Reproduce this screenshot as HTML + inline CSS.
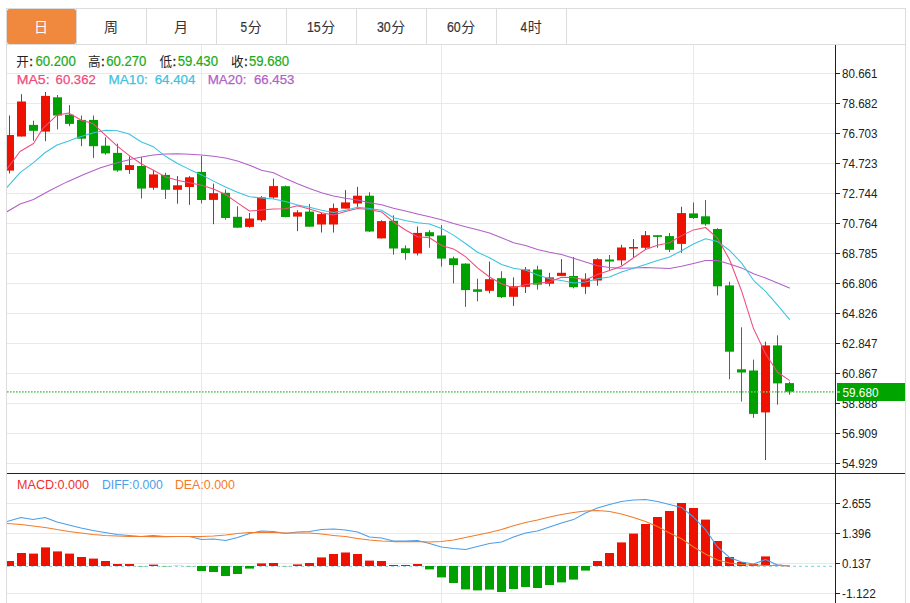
<!DOCTYPE html>
<html><head><meta charset="utf-8"><title>K</title>
<style>
html,body{margin:0;padding:0;background:#fff;}
body{width:910px;height:603px;overflow:hidden;position:relative;font-family:"Liberation Sans",sans-serif;}
svg{position:absolute;left:0;top:0;display:block;}
text{font-family:"Liberation Sans",sans-serif;}
text.cjk{font-family:"Liberation Sans","Noto Sans CJK SC",sans-serif;}
</style></head><body>
<svg width="910" height="603" viewBox="0 0 910 603">
<rect x="0" y="0" width="910" height="603" fill="#ffffff"/>
<g stroke="#e0ebf3" stroke-width="1" shape-rendering="crispEdges">
<line x1="7" x2="835" y1="73.5" y2="73.5"/>
<line x1="7" x2="835" y1="103.5" y2="103.5"/>
<line x1="7" x2="835" y1="133.5" y2="133.5"/>
<line x1="7" x2="835" y1="163.5" y2="163.5"/>
<line x1="7" x2="835" y1="193.5" y2="193.5"/>
<line x1="7" x2="835" y1="223.5" y2="223.5"/>
<line x1="7" x2="835" y1="253.5" y2="253.5"/>
<line x1="7" x2="835" y1="283.5" y2="283.5"/>
<line x1="7" x2="835" y1="313.5" y2="313.5"/>
<line x1="7" x2="835" y1="343.5" y2="343.5"/>
<line x1="7" x2="835" y1="373.5" y2="373.5"/>
<line x1="7" x2="835" y1="403.5" y2="403.5"/>
<line x1="7" x2="835" y1="433.5" y2="433.5"/>
<line x1="7" x2="835" y1="463.5" y2="463.5"/>
<line x1="7" x2="835" y1="503.5" y2="503.5"/>
<line x1="7" x2="835" y1="533.5" y2="533.5"/>
<line x1="7" x2="835" y1="563.5" y2="563.5"/>
<line x1="7" x2="835" y1="593.5" y2="593.5"/>
<line x1="201.5" x2="201.5" y1="45" y2="603"/>
<line x1="441.5" x2="441.5" y1="45" y2="603"/>
<line x1="693.5" x2="693.5" y1="45" y2="603"/>
</g>
<g stroke="#dcdcdc" stroke-width="1" fill="none" shape-rendering="crispEdges">
<line x1="6" x2="906" y1="8.5" y2="8.5"/>
<line x1="6.5" x2="6.5" y1="8" y2="603"/>
<line x1="905.5" x2="905.5" y1="8" y2="603"/>
<line x1="6" x2="906" y1="44.5" y2="44.5"/>
<line x1="76.5" x2="76.5" y1="9" y2="44"/>
<line x1="146.5" x2="146.5" y1="9" y2="44"/>
<line x1="216.5" x2="216.5" y1="9" y2="44"/>
<line x1="286.5" x2="286.5" y1="9" y2="44"/>
<line x1="356.5" x2="356.5" y1="9" y2="44"/>
<line x1="426.5" x2="426.5" y1="9" y2="44"/>
<line x1="496.5" x2="496.5" y1="9" y2="44"/>
<line x1="566.5" x2="566.5" y1="9" y2="44"/>
</g>
<rect x="7" y="9" width="69.1" height="35" rx="2.5" ry="2.5" fill="#f0883e"/>
<text class="cjk" x="34.10" y="32.30" font-size="14" fill="#ffffff">日</text>
<text class="cjk" x="104.10" y="32.30" font-size="14" fill="#333333">周</text>
<text class="cjk" x="174.10" y="32.30" font-size="14" fill="#333333">月</text>
<text x="240.50" y="32.30" font-size="14.4" fill="#333333" stroke="#333333" stroke-width="0.2" textLength="6.6" lengthAdjust="spacingAndGlyphs">5</text><text class="cjk" x="247.70" y="32.30" font-size="14" fill="#333333">分</text>
<text x="306.90" y="32.30" font-size="14.4" fill="#333333" stroke="#333333" stroke-width="0.2" textLength="13.8" lengthAdjust="spacingAndGlyphs">15</text><text class="cjk" x="321.30" y="32.30" font-size="14" fill="#333333">分</text>
<text x="376.90" y="32.30" font-size="14.4" fill="#333333" stroke="#333333" stroke-width="0.2" textLength="13.8" lengthAdjust="spacingAndGlyphs">30</text><text class="cjk" x="391.30" y="32.30" font-size="14" fill="#333333">分</text>
<text x="446.90" y="32.30" font-size="14.4" fill="#333333" stroke="#333333" stroke-width="0.2" textLength="13.8" lengthAdjust="spacingAndGlyphs">60</text><text class="cjk" x="461.30" y="32.30" font-size="14" fill="#333333">分</text>
<text x="520.50" y="32.30" font-size="14.4" fill="#333333" stroke="#333333" stroke-width="0.2" textLength="6.6" lengthAdjust="spacingAndGlyphs">4</text><text class="cjk" x="527.70" y="32.30" font-size="14" fill="#333333">时</text>
<defs><clipPath id="c"><rect x="7" y="45" width="828" height="558"/></clipPath></defs>
<g clip-path="url(#c)">
<rect x="9.0" y="115.5" width="1" height="58" fill="#ee1100"/>
<rect x="5.0" y="135" width="9" height="35.6" fill="#ee1100"/>
<rect x="21.0" y="94.2" width="1" height="42.3" fill="#ee1100"/>
<rect x="17.0" y="101.5" width="9" height="35" fill="#ee1100"/>
<rect x="33.0" y="120.7" width="1" height="20" fill="#00a000"/>
<rect x="29.0" y="124.9" width="9" height="5.9" fill="#00a000"/>
<rect x="45.0" y="92" width="1" height="49.2" fill="#ee1100"/>
<rect x="41.0" y="95.9" width="9" height="35.7" fill="#ee1100"/>
<rect x="57.0" y="95" width="1" height="34.4" fill="#00a000"/>
<rect x="53.0" y="97.3" width="9" height="18.2" fill="#00a000"/>
<rect x="69.0" y="105.1" width="1" height="21" fill="#00a000"/>
<rect x="65.0" y="114.7" width="9" height="9.2" fill="#00a000"/>
<rect x="81.0" y="115.5" width="1" height="30.7" fill="#00a000"/>
<rect x="77.0" y="119.9" width="9" height="18.8" fill="#00a000"/>
<rect x="93.0" y="115.5" width="1" height="42.4" fill="#00a000"/>
<rect x="89.0" y="119.9" width="9" height="26.3" fill="#00a000"/>
<rect x="105.0" y="137.3" width="1" height="17.3" fill="#00a000"/>
<rect x="101.0" y="145.7" width="9" height="7.7" fill="#00a000"/>
<rect x="117.0" y="143.7" width="1" height="28.1" fill="#00a000"/>
<rect x="113.0" y="152.9" width="9" height="17.6" fill="#00a000"/>
<rect x="129.0" y="156.3" width="1" height="17.5" fill="#ee1100"/>
<rect x="125.0" y="165.1" width="9" height="4.9" fill="#ee1100"/>
<rect x="141.0" y="157" width="1" height="41.5" fill="#00a000"/>
<rect x="137.0" y="166" width="9" height="22.6" fill="#00a000"/>
<rect x="153.0" y="170.2" width="1" height="19.6" fill="#ee1100"/>
<rect x="149.0" y="174.4" width="9" height="13.4" fill="#ee1100"/>
<rect x="165.0" y="172.7" width="1" height="26.3" fill="#00a000"/>
<rect x="161.0" y="174.9" width="9" height="14.9" fill="#00a000"/>
<rect x="177.0" y="176.1" width="1" height="27.6" fill="#ee1100"/>
<rect x="173.0" y="185.3" width="9" height="4.5" fill="#ee1100"/>
<rect x="189.0" y="176.1" width="1" height="28.8" fill="#ee1100"/>
<rect x="185.0" y="177.3" width="9" height="9.7" fill="#ee1100"/>
<rect x="201.0" y="156" width="1" height="47.4" fill="#00a000"/>
<rect x="197.0" y="171.9" width="9" height="28.1" fill="#00a000"/>
<rect x="213.0" y="183.6" width="1" height="40.6" fill="#ee1100"/>
<rect x="209.0" y="193.2" width="9" height="6.7" fill="#ee1100"/>
<rect x="225.0" y="189.5" width="1" height="30.2" fill="#00a000"/>
<rect x="221.0" y="192.8" width="9" height="25.2" fill="#00a000"/>
<rect x="237.0" y="206.3" width="1" height="21.4" fill="#00a000"/>
<rect x="233.0" y="216.8" width="9" height="10.9" fill="#00a000"/>
<rect x="249.0" y="213" width="1" height="14.7" fill="#ee1100"/>
<rect x="245.0" y="218.5" width="9" height="8.4" fill="#ee1100"/>
<rect x="261.0" y="196.2" width="1" height="25.6" fill="#ee1100"/>
<rect x="257.0" y="197.4" width="9" height="22.8" fill="#ee1100"/>
<rect x="273.0" y="178.6" width="1" height="20.1" fill="#ee1100"/>
<rect x="269.0" y="186.1" width="9" height="11.4" fill="#ee1100"/>
<rect x="285.0" y="185.6" width="1" height="31.7" fill="#00a000"/>
<rect x="281.0" y="186.2" width="9" height="30.8" fill="#00a000"/>
<rect x="297.0" y="210.2" width="1" height="21" fill="#ee1100"/>
<rect x="293.0" y="212.3" width="9" height="4.3" fill="#ee1100"/>
<rect x="309.0" y="204" width="1" height="22.7" fill="#00a000"/>
<rect x="305.0" y="211.6" width="9" height="15.1" fill="#00a000"/>
<rect x="321.0" y="212.8" width="1" height="19.7" fill="#ee1100"/>
<rect x="317.0" y="214.1" width="9" height="10.4" fill="#ee1100"/>
<rect x="333.0" y="203.5" width="1" height="29" fill="#ee1100"/>
<rect x="329.0" y="208.1" width="9" height="16.4" fill="#ee1100"/>
<rect x="345.0" y="190.1" width="1" height="18.5" fill="#ee1100"/>
<rect x="341.0" y="202.4" width="9" height="6.2" fill="#ee1100"/>
<rect x="357.0" y="186.8" width="1" height="20.1" fill="#ee1100"/>
<rect x="353.0" y="195.7" width="9" height="7.8" fill="#ee1100"/>
<rect x="369.0" y="192.3" width="1" height="39.7" fill="#00a000"/>
<rect x="365.0" y="195.7" width="9" height="35.8" fill="#00a000"/>
<rect x="381.0" y="220.3" width="1" height="18.1" fill="#ee1100"/>
<rect x="377.0" y="221.1" width="9" height="17.3" fill="#ee1100"/>
<rect x="393.0" y="215.3" width="1" height="39.4" fill="#00a000"/>
<rect x="389.0" y="220.8" width="9" height="27.7" fill="#00a000"/>
<rect x="405.0" y="245.4" width="1" height="14.3" fill="#00a000"/>
<rect x="401.0" y="248.3" width="9" height="4.7" fill="#00a000"/>
<rect x="417.0" y="226.5" width="1" height="29" fill="#ee1100"/>
<rect x="413.0" y="232.9" width="9" height="20.5" fill="#ee1100"/>
<rect x="429.0" y="230.2" width="1" height="17.5" fill="#00a000"/>
<rect x="425.0" y="232.2" width="9" height="4.1" fill="#00a000"/>
<rect x="441.0" y="225.1" width="1" height="41.5" fill="#00a000"/>
<rect x="437.0" y="235.5" width="9" height="23.1" fill="#00a000"/>
<rect x="453.0" y="256.6" width="1" height="26.8" fill="#00a000"/>
<rect x="449.0" y="258.3" width="9" height="6.7" fill="#00a000"/>
<rect x="465.0" y="263.3" width="1" height="43.6" fill="#00a000"/>
<rect x="461.0" y="263.6" width="9" height="26.5" fill="#00a000"/>
<rect x="477.0" y="278.7" width="1" height="22.6" fill="#00a000"/>
<rect x="473.0" y="289.3" width="9" height="2.5" fill="#00a000"/>
<rect x="489.0" y="261.6" width="1" height="31.7" fill="#ee1100"/>
<rect x="485.0" y="279.2" width="9" height="11.6" fill="#ee1100"/>
<rect x="501.0" y="271.2" width="1" height="26.8" fill="#00a000"/>
<rect x="497.0" y="278.2" width="9" height="18.9" fill="#00a000"/>
<rect x="513.0" y="277.4" width="1" height="28.5" fill="#ee1100"/>
<rect x="509.0" y="286.3" width="9" height="10.5" fill="#ee1100"/>
<rect x="525.0" y="267" width="1" height="26" fill="#ee1100"/>
<rect x="521.0" y="269.5" width="9" height="17.3" fill="#ee1100"/>
<rect x="537.0" y="265.8" width="1" height="23.8" fill="#00a000"/>
<rect x="533.0" y="269.5" width="9" height="15.1" fill="#00a000"/>
<rect x="549.0" y="272.8" width="1" height="13.5" fill="#ee1100"/>
<rect x="545.0" y="277.4" width="9" height="6.3" fill="#ee1100"/>
<rect x="561.0" y="259.1" width="1" height="16.8" fill="#ee1100"/>
<rect x="557.0" y="272.8" width="9" height="3.1" fill="#ee1100"/>
<rect x="573.0" y="257" width="1" height="31.3" fill="#00a000"/>
<rect x="569.0" y="276" width="9" height="11.2" fill="#00a000"/>
<rect x="585.0" y="273.3" width="1" height="20.6" fill="#ee1100"/>
<rect x="581.0" y="278.8" width="9" height="8" fill="#ee1100"/>
<rect x="597.0" y="258.3" width="1" height="27.5" fill="#ee1100"/>
<rect x="593.0" y="259.2" width="9" height="21.3" fill="#ee1100"/>
<rect x="609.0" y="255" width="1" height="14.9" fill="#00a000"/>
<rect x="605.0" y="259.5" width="9" height="2" fill="#00a000"/>
<rect x="621.0" y="244.8" width="1" height="20.6" fill="#ee1100"/>
<rect x="617.0" y="247.5" width="9" height="12.9" fill="#ee1100"/>
<rect x="633.0" y="239.1" width="1" height="17.9" fill="#ee1100"/>
<rect x="629.0" y="247" width="9" height="1.6" fill="#ee1100"/>
<rect x="645.0" y="231" width="1" height="19" fill="#ee1100"/>
<rect x="641.0" y="235.2" width="9" height="12.6" fill="#ee1100"/>
<rect x="657.0" y="235" width="1" height="12.8" fill="#00a000"/>
<rect x="653.0" y="235.2" width="9" height="1.7" fill="#00a000"/>
<rect x="669.0" y="233" width="1" height="19" fill="#00a000"/>
<rect x="665.0" y="236.1" width="9" height="13.7" fill="#00a000"/>
<rect x="681.0" y="206.7" width="1" height="46.1" fill="#ee1100"/>
<rect x="677.0" y="213.1" width="9" height="30.8" fill="#ee1100"/>
<rect x="693.0" y="202.5" width="1" height="16.5" fill="#00a000"/>
<rect x="689.0" y="213.4" width="9" height="4.6" fill="#00a000"/>
<rect x="705.0" y="200" width="1" height="25.7" fill="#00a000"/>
<rect x="701.0" y="216.3" width="9" height="8" fill="#00a000"/>
<rect x="717.0" y="228.2" width="1" height="67.2" fill="#00a000"/>
<rect x="713.0" y="229" width="9" height="57.3" fill="#00a000"/>
<rect x="729.0" y="281.7" width="1" height="97.5" fill="#00a000"/>
<rect x="725.0" y="285.4" width="9" height="66.3" fill="#00a000"/>
<rect x="741.0" y="327.3" width="1" height="74.2" fill="#00a000"/>
<rect x="737.0" y="369.3" width="9" height="3.2" fill="#00a000"/>
<rect x="753.0" y="359.6" width="1" height="58.2" fill="#00a000"/>
<rect x="749.0" y="370.5" width="9" height="43.4" fill="#00a000"/>
<rect x="765.0" y="341.7" width="1" height="118.3" fill="#ee1100"/>
<rect x="761.0" y="345.4" width="9" height="67" fill="#ee1100"/>
<rect x="777.0" y="335.3" width="1" height="69.4" fill="#00a000"/>
<rect x="773.0" y="345.4" width="9" height="38" fill="#00a000"/>
<rect x="789.0" y="381.8" width="1" height="13" fill="#00a000"/>
<rect x="785.0" y="383.1" width="9" height="8.7" fill="#00a000"/>
<line x1="7" x2="835" y1="391.8" y2="391.8" stroke="#5cc85c" opacity="0.9" stroke-width="1.8" stroke-dasharray="1.6 1.4"/>
<polyline fill="none" stroke="#b25fc9" stroke-width="1.05" stroke-linejoin="round" stroke-linecap="round" points="7,211.7 20.1,204 33.5,199.5 50.3,190.3 67,181.9 83.8,174.5 100.5,167.8 117.3,162.8 134,158.5 141.5,157 153.5,155.1 165.5,154 177.5,153.8 189.5,154.3 201.5,155.1 213.5,156.3 225.5,158 237.5,161 249.5,165.2 261.5,170.2 273.5,172.7 285.5,178.6 297.5,183.8 309.5,188.5 321.5,192.7 333.5,196 345.5,198.2 357.5,199.9 369.5,202.7 381.5,204.7 393.5,208.2 405.5,211.1 417.5,213.9 429.5,216.8 441.5,219.7 453.5,223.4 465.5,226.8 477.5,229.8 489.5,233.1 501.5,237.7 513.5,242.7 525.5,245.5 537.5,249.4 549.5,252.2 561.5,254.6 573.5,258.3 585.5,262 597.5,265.7 609.5,267.4 621.5,268.2 633.5,267.9 645.5,267.4 657.5,267.9 669.5,268.4 681.5,266.2 693.5,263.4 705.5,260.5 717.5,260.4 729.5,264 741.5,267.9 753.5,273.8 765.5,278 777.5,283 789.5,288"/>
<polyline fill="none" stroke="#3cc3e0" stroke-width="1.05" stroke-linejoin="round" stroke-linecap="round" points="7,187.4 20.1,172.7 33.5,162.6 45.2,152.5 57,145 68.7,141 77,137.8 93.8,132.8 105.6,130.3 117.3,130.8 129,134 141.5,142 153.5,146.8 165.5,156.3 177.5,163.5 189.5,169.4 201.5,174.9 213.5,181.1 225.5,187 237.5,192.3 249.5,196.7 261.5,197.9 273.5,199 285.5,201.5 297.5,204.9 309.5,207.2 321.5,210.2 333.5,212.4 345.5,210.2 357.5,207.2 369.5,208.6 381.5,210.2 393.5,217.8 405.5,220.6 417.5,222.8 429.5,224 441.5,228.4 453.5,235.1 465.5,243.5 477.5,252.2 489.5,257.8 501.5,264.5 513.5,268.2 525.5,270 537.5,275 549.5,278.7 561.5,280.6 573.5,283 585.5,282.1 597.5,278.8 609.5,277.1 621.5,272.1 633.5,268.2 645.5,264.5 657.5,260.4 669.5,257 681.5,250.8 693.5,244 705.5,238.8 717.5,241.6 729.5,250.3 741.5,262.9 753.5,280.3 765.5,291.3 777.5,305.1 789.5,319.4"/>
<polyline fill="none" stroke="#ee4d7c" stroke-width="1.05" stroke-linejoin="round" stroke-linecap="round" points="7,169 20,151.5 33.5,143.5 42.7,128.6 57,115.2 68.7,113 81.3,120.2 93,123.6 105.6,135.3 117.3,146.2 129,155.4 141.5,164 153.5,170.2 165.5,176.9 177.5,180.3 189.5,182.8 201.5,185.3 213.5,189 225.5,194.5 237.5,202.9 249.5,211 261.5,210.1 273.5,209.1 285.5,208.8 297.5,205.7 309.5,208.9 321.5,212.8 333.5,215 345.5,211.6 357.5,208.6 369.5,209.4 381.5,211.9 393.5,222 405.5,230 417.5,236.7 429.5,237.8 441.5,245.5 453.5,248.9 465.5,256.6 477.5,267.8 489.5,277 501.5,283.7 513.5,287.9 525.5,284.6 537.5,283.2 549.5,282.1 561.5,277.2 573.5,277.6 585.5,280 597.5,274.6 609.5,270.4 621.5,266.2 633.5,257.8 645.5,249.5 657.5,245.3 669.5,242.8 681.5,235.6 693.5,229.9 705.5,227.5 717.5,238.2 729.5,259.5 741.5,290.7 753.5,328.6 765.5,353.7 777.5,372.3 789.5,380.4"/>
<line x1="7" x2="835" y1="566.3" y2="566.3" stroke="#9ad7f0" stroke-width="1.2" stroke-dasharray="3 3"/>
<rect x="5.0" y="561" width="9" height="5" fill="#ee1100" opacity="1"/>
<rect x="17.0" y="553" width="9" height="13" fill="#ee1100" opacity="1"/>
<rect x="29.0" y="553.6" width="9" height="12.4" fill="#ee1100" opacity="1"/>
<rect x="41.0" y="547.4" width="9" height="18.6" fill="#ee1100" opacity="1"/>
<rect x="53.0" y="551.4" width="9" height="14.6" fill="#ee1100" opacity="1"/>
<rect x="65.0" y="553.6" width="9" height="12.4" fill="#ee1100" opacity="1"/>
<rect x="77.0" y="557" width="9" height="9" fill="#ee1100" opacity="1"/>
<rect x="89.0" y="558.6" width="9" height="7.4" fill="#ee1100" opacity="1"/>
<rect x="101.0" y="561" width="9" height="5" fill="#ee1100" opacity="1"/>
<rect x="113.0" y="564" width="9" height="2" fill="#ee1100" opacity="1"/>
<rect x="125.0" y="564" width="9" height="2" fill="#ee1100" opacity="1"/>
<rect x="137.0" y="566" width="9" height="0.6" fill="#00a000" opacity="0.5"/>
<rect x="149.0" y="564.6" width="9" height="1.4" fill="#ee1100" opacity="1"/>
<rect x="161.0" y="566" width="9" height="0.6" fill="#00a000" opacity="0.5"/>
<rect x="173.0" y="565.6" width="9" height="0.4" fill="#ee1100" opacity="0.35"/>
<rect x="185.0" y="566" width="9" height="0.5" fill="#00a000" opacity="0.5"/>
<rect x="197.0" y="566" width="9" height="5" fill="#00a000" opacity="1"/>
<rect x="209.0" y="566" width="9" height="6" fill="#00a000" opacity="1"/>
<rect x="221.0" y="566" width="9" height="10" fill="#00a000" opacity="1"/>
<rect x="233.0" y="566" width="9" height="8" fill="#00a000" opacity="1"/>
<rect x="245.0" y="566" width="9" height="2.6" fill="#00a000" opacity="1"/>
<rect x="257.0" y="563.4" width="9" height="2.6" fill="#ee1100" opacity="1"/>
<rect x="269.0" y="563" width="9" height="3" fill="#ee1100" opacity="1"/>
<rect x="281.0" y="566" width="9" height="0.5" fill="#00a000" opacity="0.5"/>
<rect x="293.0" y="564.4" width="9" height="1.6" fill="#ee1100" opacity="1"/>
<rect x="305.0" y="563" width="9" height="3" fill="#ee1100" opacity="1"/>
<rect x="317.0" y="557.4" width="9" height="8.6" fill="#ee1100" opacity="1"/>
<rect x="329.0" y="554" width="9" height="12" fill="#ee1100" opacity="1"/>
<rect x="341.0" y="552.5" width="9" height="13.5" fill="#ee1100" opacity="1"/>
<rect x="353.0" y="554" width="9" height="12" fill="#ee1100" opacity="1"/>
<rect x="365.0" y="560.6" width="9" height="5.4" fill="#ee1100" opacity="1"/>
<rect x="377.0" y="561" width="9" height="5" fill="#ee1100" opacity="1"/>
<rect x="389.0" y="565" width="9" height="1" fill="#ee1100" opacity="1"/>
<rect x="401.0" y="565" width="9" height="1" fill="#ee1100" opacity="1"/>
<rect x="413.0" y="564" width="9" height="2" fill="#ee1100" opacity="1"/>
<rect x="425.0" y="566" width="9" height="3.4" fill="#00a000" opacity="1"/>
<rect x="437.0" y="566" width="9" height="11.4" fill="#00a000" opacity="1"/>
<rect x="449.0" y="566" width="9" height="17" fill="#00a000" opacity="1"/>
<rect x="461.0" y="566" width="9" height="23.4" fill="#00a000" opacity="1"/>
<rect x="473.0" y="566" width="9" height="24.4" fill="#00a000" opacity="1"/>
<rect x="485.0" y="566" width="9" height="23.6" fill="#00a000" opacity="1"/>
<rect x="497.0" y="566" width="9" height="26" fill="#00a000" opacity="1"/>
<rect x="509.0" y="566" width="9" height="23" fill="#00a000" opacity="1"/>
<rect x="521.0" y="566" width="9" height="21" fill="#00a000" opacity="1"/>
<rect x="533.0" y="566" width="9" height="22" fill="#00a000" opacity="1"/>
<rect x="545.0" y="566" width="9" height="19" fill="#00a000" opacity="1"/>
<rect x="557.0" y="566" width="9" height="16.4" fill="#00a000" opacity="1"/>
<rect x="569.0" y="566" width="9" height="13.6" fill="#00a000" opacity="1"/>
<rect x="581.0" y="566" width="9" height="4.6" fill="#00a000" opacity="1"/>
<rect x="593.0" y="561" width="9" height="5" fill="#ee1100" opacity="1"/>
<rect x="605.0" y="553" width="9" height="13" fill="#ee1100" opacity="1"/>
<rect x="617.0" y="542.4" width="9" height="23.6" fill="#ee1100" opacity="1"/>
<rect x="629.0" y="533.6" width="9" height="32.4" fill="#ee1100" opacity="1"/>
<rect x="641.0" y="524" width="9" height="42" fill="#ee1100" opacity="1"/>
<rect x="653.0" y="517" width="9" height="49" fill="#ee1100" opacity="1"/>
<rect x="665.0" y="511" width="9" height="55" fill="#ee1100" opacity="1"/>
<rect x="677.0" y="503" width="9" height="63" fill="#ee1100" opacity="1"/>
<rect x="689.0" y="508" width="9" height="58" fill="#ee1100" opacity="1"/>
<rect x="701.0" y="519.6" width="9" height="46.4" fill="#ee1100" opacity="1"/>
<rect x="713.0" y="541" width="9" height="25" fill="#ee1100" opacity="1"/>
<rect x="725.0" y="557" width="9" height="9" fill="#ee1100" opacity="1"/>
<rect x="737.0" y="562" width="9" height="4" fill="#ee1100" opacity="1"/>
<rect x="749.0" y="564" width="9" height="2" fill="#ee1100" opacity="1"/>
<rect x="761.0" y="556.4" width="9" height="9.6" fill="#ee1100" opacity="1"/>
<rect x="773.0" y="564.4" width="9" height="1.6" fill="#ee1100" opacity="0.35"/>
<polyline fill="none" stroke="#4b9eea" stroke-width="1.05" stroke-linejoin="round" stroke-linecap="round" points="7,521.6 21,517.4 33,519.6 45,517.6 57,522 69,525 81,528 93,530.4 105,532.6 117,534.6 129,535.4 141,536.6 153,535.6 165,536.6 177,536.4 189.5,536.6 201.5,539.4 213.5,539 225.5,540.4 237.5,537.4 249.5,533.6 261.5,531 273.5,531.4 285.5,533.4 297.5,532 309.5,531.4 321.5,529.4 333.5,529 345.5,530 357.5,532 369.5,537 381.5,538 393.5,541 405.5,541 417.5,540.6 429.5,543.4 441.5,547 453.5,548.6 465.5,549.4 477.5,546.6 489.5,543.6 501.5,542 513.5,537 525.5,533 537.5,531 549.5,527 561.5,523 573.5,519.6 585.5,513 597.5,508 609.5,504.4 621.5,501.4 633.5,500 645.5,499.4 657.5,501.4 669.5,504.4 681.5,507.4 693.5,517 705.5,529.6 717.5,547 729.5,557.4 741.5,562 753.5,564 765.5,559.6 777.5,565 789.5,566"/>
<polyline fill="none" stroke="#f37b2b" stroke-width="1.05" stroke-linejoin="round" stroke-linecap="round" points="7,523.4 21,524.4 33,526 45,527.4 57,529.6 69,531.4 81,533 93,534.4 105,535.4 117,536 129,536.4 141,536.6 153,536.6 165,536.6 177,536.4 189.5,536.6 201.5,536.6 213.5,536 225.5,535 237.5,533.6 249.5,532.6 261.5,532.4 273.5,532.6 285.5,533 297.5,533 309.5,533 321.5,534 333.5,535.4 345.5,536.6 357.5,538.4 369.5,540 381.5,541 393.5,541.6 405.5,541.6 417.5,541.6 429.5,542 441.5,541.4 453.5,540 465.5,537.6 477.5,535 489.5,532.4 501.5,529.6 513.5,525.8 525.5,522.6 537.5,520 549.5,517 561.5,514.6 573.5,512.6 585.5,511 597.5,510.4 609.5,511.6 621.5,514 633.5,517.4 645.5,521.6 657.5,526.6 669.5,533 681.5,538.8 693.5,547 705.5,554 717.5,560 729.5,563 741.5,564.4 753.5,565 765.5,565.4 777.5,565.6 789.5,566"/>
</g>
<g stroke="#222" stroke-width="1" shape-rendering="crispEdges">
<line x1="7" x2="905" y1="473.5" y2="473.5"/>
<line x1="835.5" x2="835.5" y1="45" y2="603"/>
<line x1="836" x2="840" y1="73.5" y2="73.5"/>
<line x1="836" x2="840" y1="103.5" y2="103.5"/>
<line x1="836" x2="840" y1="133.5" y2="133.5"/>
<line x1="836" x2="840" y1="163.5" y2="163.5"/>
<line x1="836" x2="840" y1="193.5" y2="193.5"/>
<line x1="836" x2="840" y1="223.5" y2="223.5"/>
<line x1="836" x2="840" y1="253.5" y2="253.5"/>
<line x1="836" x2="840" y1="283.5" y2="283.5"/>
<line x1="836" x2="840" y1="313.5" y2="313.5"/>
<line x1="836" x2="840" y1="343.5" y2="343.5"/>
<line x1="836" x2="840" y1="373.5" y2="373.5"/>
<line x1="836" x2="840" y1="403.5" y2="403.5"/>
<line x1="836" x2="840" y1="433.5" y2="433.5"/>
<line x1="836" x2="840" y1="463.5" y2="463.5"/>
<line x1="836" x2="840" y1="503.5" y2="503.5"/>
<line x1="836" x2="840" y1="533.5" y2="533.5"/>
<line x1="836" x2="840" y1="563.5" y2="563.5"/>
<line x1="836" x2="840" y1="593.5" y2="593.5"/>
</g>
<g font-size="12.7" fill="#222">
<text x="842" y="77.7" textLength="35.5" lengthAdjust="spacingAndGlyphs">80.661</text>
<text x="842" y="107.7" textLength="35.5" lengthAdjust="spacingAndGlyphs">78.682</text>
<text x="842" y="137.7" textLength="35.5" lengthAdjust="spacingAndGlyphs">76.703</text>
<text x="842" y="167.7" textLength="35.5" lengthAdjust="spacingAndGlyphs">74.723</text>
<text x="842" y="197.7" textLength="35.5" lengthAdjust="spacingAndGlyphs">72.744</text>
<text x="842" y="227.7" textLength="35.5" lengthAdjust="spacingAndGlyphs">70.764</text>
<text x="842" y="257.7" textLength="35.5" lengthAdjust="spacingAndGlyphs">68.785</text>
<text x="842" y="287.7" textLength="35.5" lengthAdjust="spacingAndGlyphs">66.806</text>
<text x="842" y="317.7" textLength="35.5" lengthAdjust="spacingAndGlyphs">64.826</text>
<text x="842" y="347.7" textLength="35.5" lengthAdjust="spacingAndGlyphs">62.847</text>
<text x="842" y="377.7" textLength="35.5" lengthAdjust="spacingAndGlyphs">60.867</text>
<text x="842" y="407.7" textLength="35.5" lengthAdjust="spacingAndGlyphs">58.888</text>
<text x="842" y="437.7" textLength="35.5" lengthAdjust="spacingAndGlyphs">56.909</text>
<text x="842" y="467.7" textLength="35.5" lengthAdjust="spacingAndGlyphs">54.929</text>
<text x="842" y="507.7" textLength="28.9" lengthAdjust="spacingAndGlyphs">2.655</text>
<text x="842" y="537.7" textLength="28.9" lengthAdjust="spacingAndGlyphs">1.396</text>
<text x="842" y="567.7" textLength="28.9" lengthAdjust="spacingAndGlyphs">0.137</text>
<text x="842" y="597.7" textLength="33.8" lengthAdjust="spacingAndGlyphs">-1.122</text>
</g>
<rect x="837" y="383" width="68" height="18" fill="#00a400"/>
<line x1="836" x2="840" y1="392" y2="392" stroke="#fff" stroke-width="1"/>
<text x="842.5" y="396.8" font-size="12.7" fill="#fff" textLength="36" lengthAdjust="spacingAndGlyphs">59.680</text>
<text class="cjk" x="16.30" y="66.30" font-size="12.6" fill="#222">开</text>
<text x="29.2" y="66" font-size="13.5" fill="#222" stroke="#222" stroke-width="0.45">:</text>
<text x="35.5" y="66.2" font-size="14" fill="#1aab1a" stroke="#1aab1a" stroke-width="0.2" textLength="40.2" lengthAdjust="spacingAndGlyphs">60.200</text>
<text class="cjk" x="88.00" y="66.30" font-size="12.6" fill="#222">高</text>
<text x="100.9" y="66" font-size="13.5" fill="#222" stroke="#222" stroke-width="0.45">:</text>
<text x="106.2" y="66.2" font-size="14" fill="#1aab1a" stroke="#1aab1a" stroke-width="0.2" textLength="40.2" lengthAdjust="spacingAndGlyphs">60.270</text>
<text class="cjk" x="159.60" y="66.30" font-size="12.6" fill="#222">低</text>
<text x="172.5" y="66" font-size="13.5" fill="#222" stroke="#222" stroke-width="0.45">:</text>
<text x="177.8" y="66.2" font-size="14" fill="#1aab1a" stroke="#1aab1a" stroke-width="0.2" textLength="40.2" lengthAdjust="spacingAndGlyphs">59.430</text>
<text class="cjk" x="231.00" y="66.30" font-size="12.6" fill="#222">收</text>
<text x="243.9" y="66" font-size="13.5" fill="#222" stroke="#222" stroke-width="0.45">:</text>
<text x="248.9" y="66.2" font-size="14" fill="#1aab1a" stroke="#1aab1a" stroke-width="0.2" textLength="40.2" lengthAdjust="spacingAndGlyphs">59.680</text>
<g font-size="13">
<text x="16.7" y="83.6" fill="#ee4d7c" stroke="#ee4d7c" stroke-width="0.25" textLength="32.9" lengthAdjust="spacingAndGlyphs">MA5:</text>
<text x="55.6" y="83.6" fill="#ee4d7c" stroke="#ee4d7c" stroke-width="0.25" textLength="40.2" lengthAdjust="spacingAndGlyphs">60.362</text>
<text x="108.5" y="83.6" fill="#3cc3e0" stroke="#3cc3e0" stroke-width="0.25" textLength="39.2" lengthAdjust="spacingAndGlyphs">MA10:</text>
<text x="154.7" y="83.6" fill="#3cc3e0" stroke="#3cc3e0" stroke-width="0.25" textLength="40.7" lengthAdjust="spacingAndGlyphs">64.404</text>
<text x="207.7" y="83.6" fill="#b25fc9" stroke="#b25fc9" stroke-width="0.25" textLength="38.7" lengthAdjust="spacingAndGlyphs">MA20:</text>
<text x="254.0" y="83.6" fill="#b25fc9" stroke="#b25fc9" stroke-width="0.25" textLength="40.4" lengthAdjust="spacingAndGlyphs">66.453</text>
</g>
<g font-size="12">
<text x="17" y="488.8" fill="#ee3030" textLength="72.1" lengthAdjust="spacingAndGlyphs">MACD:0.000</text>
<text x="102" y="488.8" fill="#4b9eea" textLength="60.9" lengthAdjust="spacingAndGlyphs">DIFF:0.000</text>
<text x="174.9" y="488.8" fill="#f37b2b" textLength="60" lengthAdjust="spacingAndGlyphs">DEA:0.000</text>
</g>
</svg></body></html>
